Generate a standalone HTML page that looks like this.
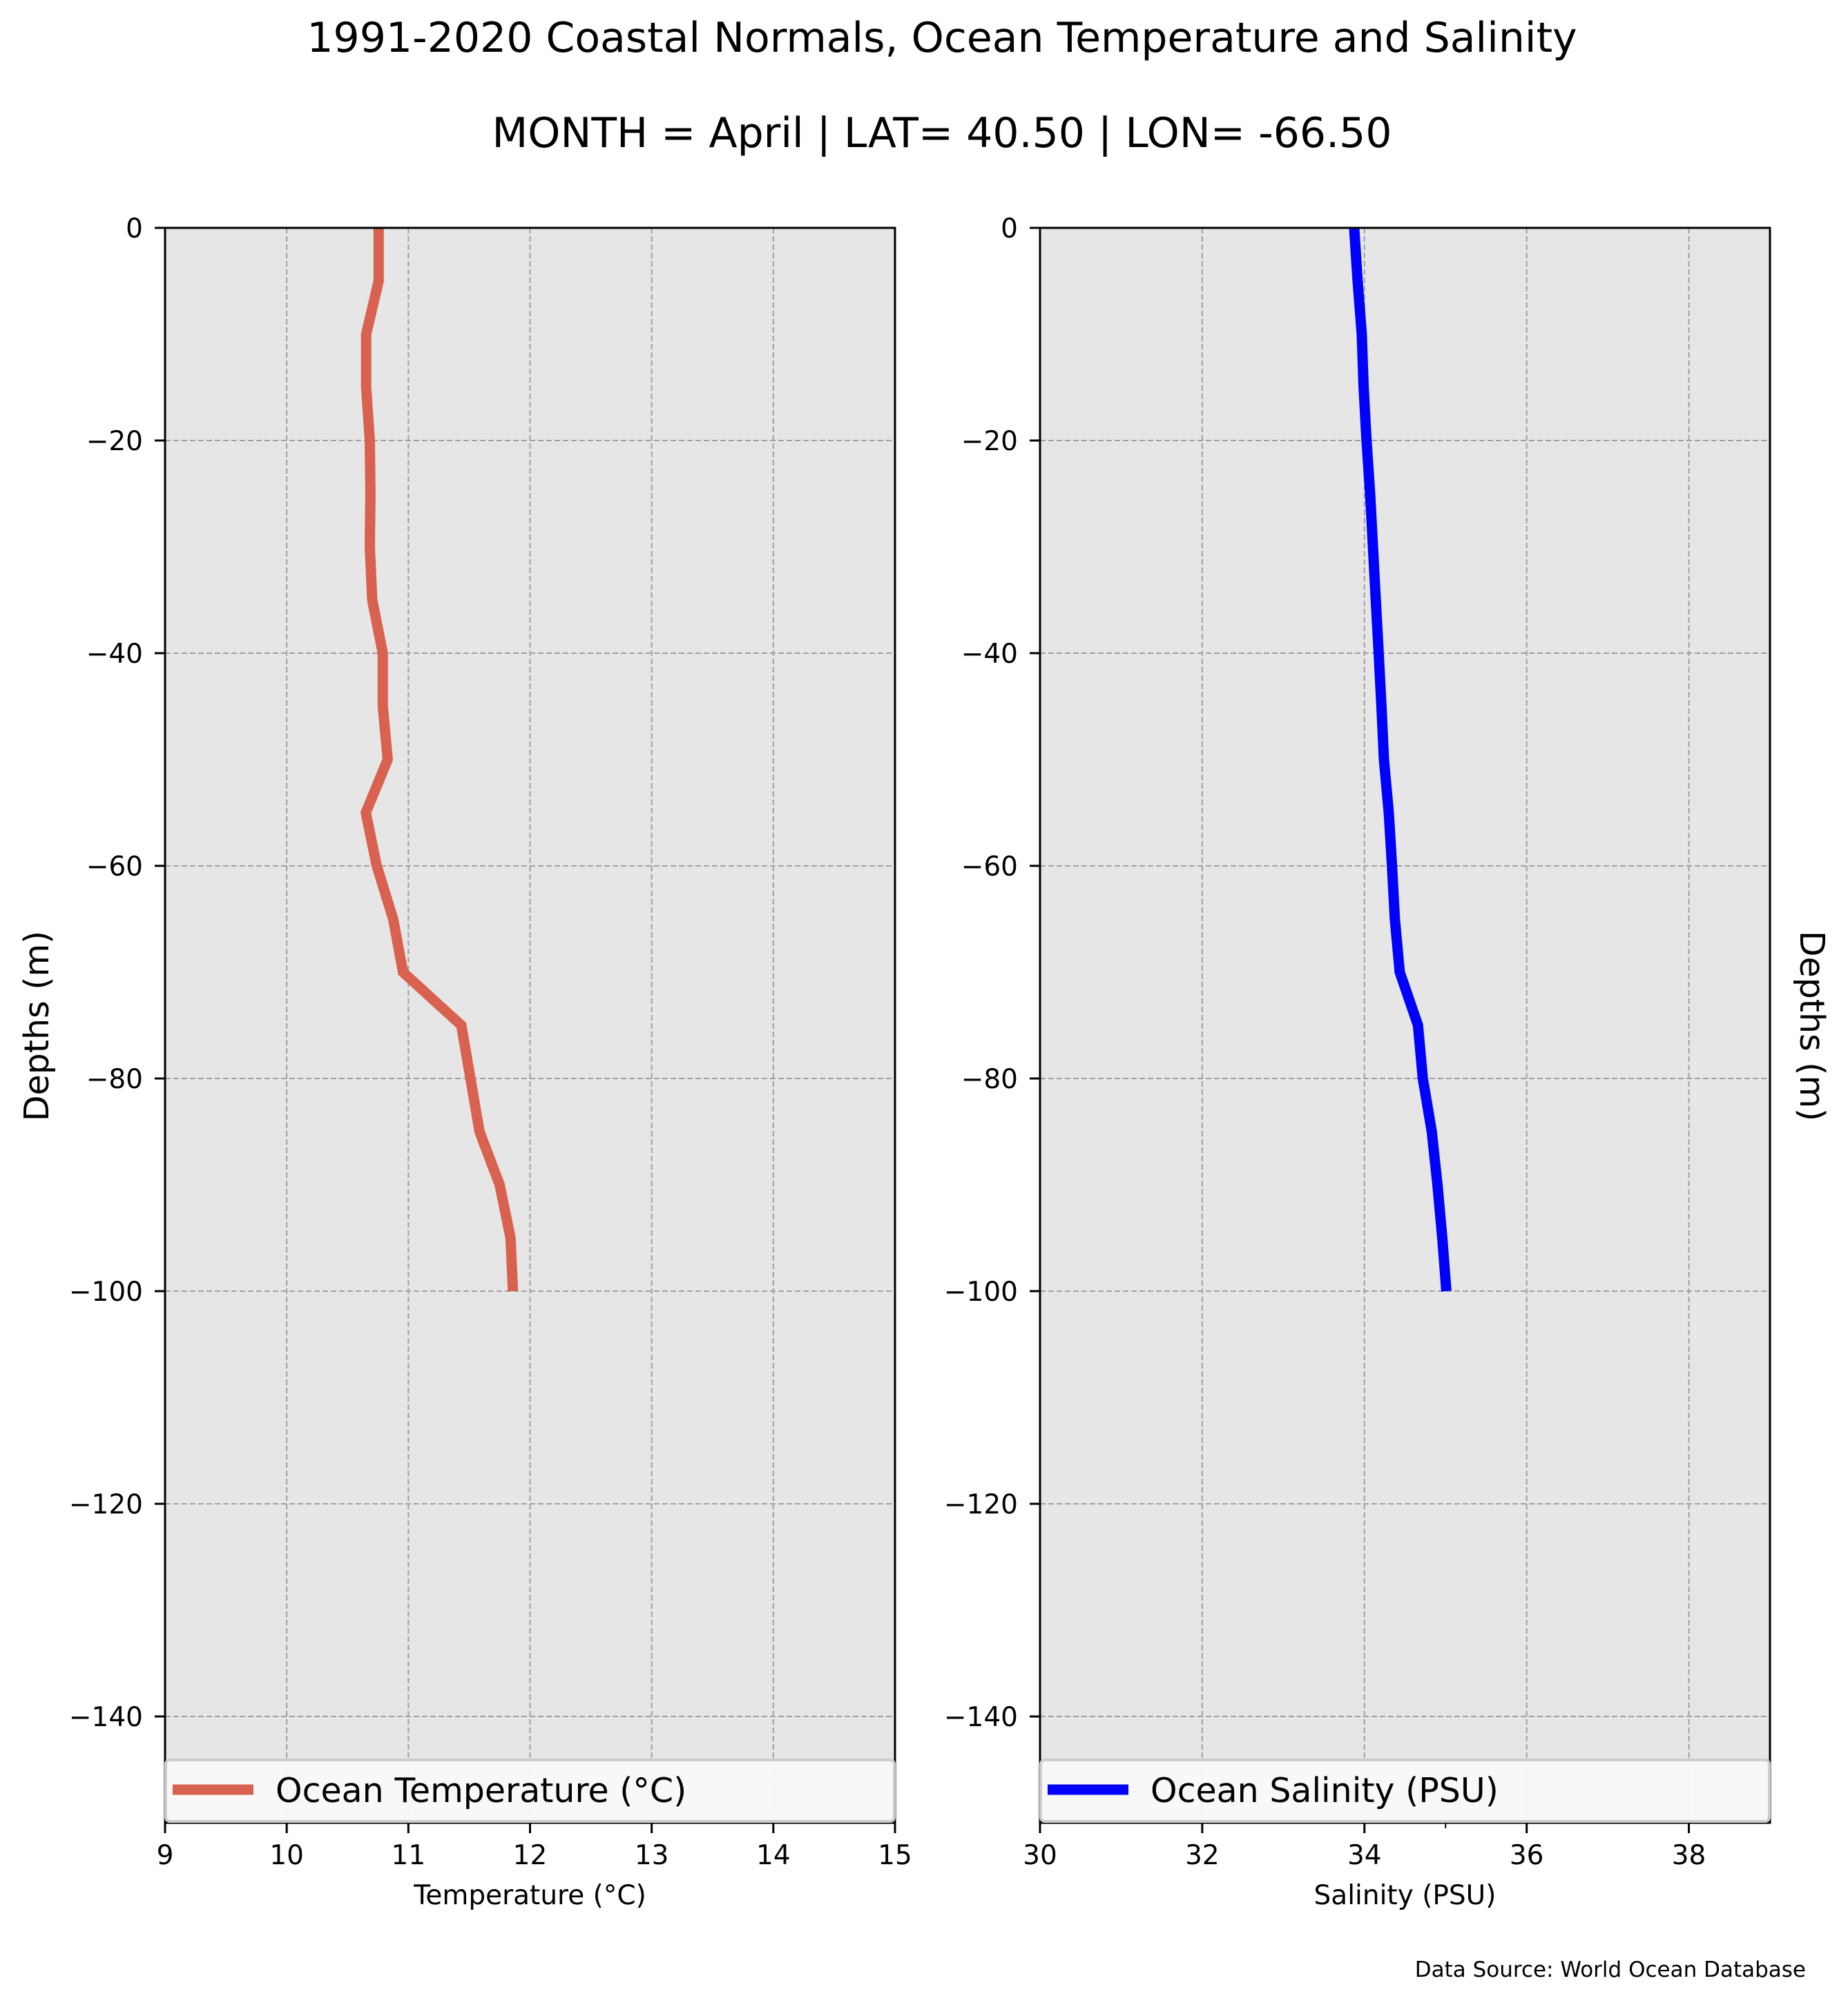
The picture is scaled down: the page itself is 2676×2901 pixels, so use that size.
<!DOCTYPE html>
<html><head><meta charset="utf-8"><style>
html,body{margin:0;padding:0;background:#fff;}
svg{display:block;font-family:"DejaVu Sans","Liberation Sans",sans-serif;}
</style></head><body>
<svg id="chart" width="2676" height="2901" viewBox="0 0 2676 2901" xmlns="http://www.w3.org/2000/svg">
<text x="1364" y="75" font-size="60" text-anchor="middle">1991-2020 Coastal Normals, Ocean Temperature and Salinity</text>
<text x="1364" y="213" font-size="60" text-anchor="middle">MONTH = April | LAT= 40.50 | LON= -66.50</text>
<g id="left"></g>
<g id="right"></g>
<text x="2615" y="2863" font-size="31" text-anchor="end">Data Source: World Ocean Database</text>
</svg>
<script>
const depths = [0,-5,-10,-15,-20,-25,-30,-35,-40,-45,-50,-55,-60,-65,-70,-75,-80,-85,-90,-95,-100];
const temperature = [10.756,10.756,10.653,10.653,10.683,10.688,10.683,10.703,10.79,10.79,10.83,10.65,10.74,10.875,10.956,11.435,11.51,11.585,11.75,11.84,11.86];
const salinity = [33.873,33.916,33.967,33.99,34.026,34.07,34.105,34.14,34.176,34.21,34.24,34.30,34.34,34.375,34.435,34.66,34.72,34.83,34.90,34.96,35.01];
const yTicks = [0,-20,-40,-60,-80,-100,-120,-140];
const tempTicks = [9,10,11,12,13,14,15];
const salTicks = [30,32,34,36,38];
const salMinorTicks = [35];

const NS = "http://www.w3.org/2000/svg";
const TOP = 330, BOT = 2640, YMIN = -150, YMAX = 0;
function yScale(d){ return TOP + (YMAX - d) / (YMAX - YMIN) * (BOT - TOP); }
function mk(tag, attrs, parent){ const e = document.createElementNS(NS, tag); for (const k in attrs) e.setAttribute(k, attrs[k]); parent.appendChild(e); return e; }

function panel(g, x0, x1, xmin, xmax, ticks, minor, values, color, legendText, xLabel, name){
  const xs = v => x0 + (v - xmin) / (xmax - xmin) * (x1 - x0);
  const bg = mk('rect', {x:x0, y:TOP, width:x1-x0, height:BOT-TOP, fill:'#e6e6e6'}, g);
  
  
  yTicks.forEach(t => {
    const l = mk('line', {x1:x0, x2:x1, y1:yScale(t), y2:yScale(t), stroke:'#a0a0a0', 'stroke-width':2, 'stroke-dasharray':'8,4'}, g);
    
    
    const tk = mk('line', {x1:x0-15, x2:x0, y1:yScale(t), y2:yScale(t), stroke:'#000', 'stroke-width':3}, g);
    
    
    const tx = mk('text', {x:x0-32, y:yScale(t)+14, 'font-size':39, 'text-anchor':'end'}, g);
    tx.textContent = t === 0 ? '0' : '\u2212' + Math.abs(t);
    
    
  });
  ticks.forEach(t => {
    if (t !== xmin && t !== xmax) {
      const l = mk('line', {x1:xs(t), x2:xs(t), y1:TOP, y2:BOT, stroke:'#a0a0a0', 'stroke-width':2, 'stroke-dasharray':'8,4'}, g);
      
      
    }
    const tk = mk('line', {x1:xs(t), x2:xs(t), y1:BOT, y2:BOT+15, stroke:'#000', 'stroke-width':3}, g);
    
    
    const tx = mk('text', {x:xs(t), y:2700, 'font-size':39, 'text-anchor':'middle'}, g);
    tx.textContent = String(t);
    
    
  });
  minor.forEach(t => {
    const tk = mk('line', {x1:xs(t), x2:xs(t), y1:BOT, y2:BOT+8, stroke:'#000', 'stroke-width':2}, g);
    
    
  });
  const pts = values.map((v,i) => xs(v).toFixed(1) + ',' + yScale(depths[i]).toFixed(1)).join(' ');
  const line = mk('polyline', {points:pts, fill:'none', stroke:color, 'stroke-width':15, 'stroke-linejoin':'miter'}, g);
  
  
  const frame = mk('rect', {x:x0, y:TOP, width:x1-x0, height:BOT-TOP, fill:'none', stroke:'#000', 'stroke-width':3}, g);
  
  
  const lg = mk('g', {}, g);
  
  
  mk('rect', {x:x0+1, y:2549, width:x1-x0-2, height:BOT-2549-2, rx:6, fill:'#f9f9f9', 'fill-opacity':0.95, stroke:'#cccccc', 'stroke-width':4}, lg);
  const ls = mk('line', {x1:x0+11, x2:x0+128, y1:2592, y2:2592, stroke:color, 'stroke-width':15}, lg);
  
  
  const lt = mk('text', {x:x0+160, y:2610, 'font-size':49}, lg);
  lt.textContent = legendText;
  
  
  const xl = mk('text', {x:(x0+x1)/2, y:2758, 'font-size':39, 'text-anchor':'middle'}, g);
  xl.textContent = xLabel;
  
  
}

panel(document.getElementById('left'), 239, 1296, 9, 15, tempTicks, [], temperature, '#d9614f', 'Ocean Temperature (\u00b0C)', 'Temperature (\u00b0C)', 'temperature');
panel(document.getElementById('right'), 1506, 2563, 30, 39, salTicks, salMinorTicks, salinity, '#0000ff', 'Ocean Salinity (PSU)', 'Salinity (PSU)', 'salinity');

const svg = document.getElementById('chart');
const yl = mk('text', {x:0, y:0, 'font-size':49, 'text-anchor':'middle', transform:'translate(70,1486) rotate(-90)'}, svg);
yl.textContent = 'Depths (m)';


const yr = mk('text', {x:0, y:0, 'font-size':49, 'text-anchor':'middle', transform:'translate(2607,1486) rotate(90)'}, svg);
yr.textContent = 'Depths (m)';


</script>
</body></html>
